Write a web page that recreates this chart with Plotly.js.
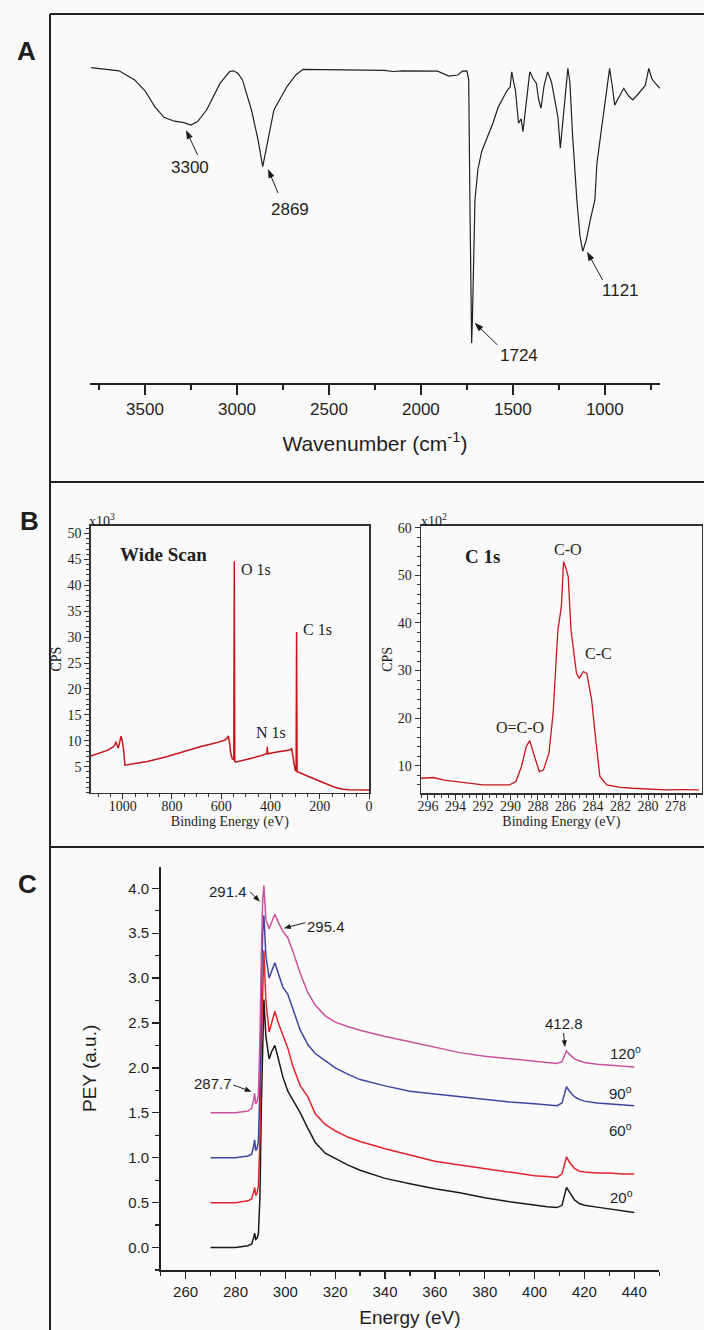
<!DOCTYPE html>
<html><head><meta charset="utf-8">
<script src="https://cdn.plot.ly/plotly-3.0.1.min.js"></script>
<style>html,body{margin:0;padding:0;background:#fafafa;}#chart{width:704px;height:1330px;}</style>
</head><body><div id="chart"></div>
<script>
// ---------- Panel A : FTIR ----------
const irWavenumber = [3793,3700,3641,3556,3500,3446,3397,3340,3288,3251,
  3214,3165,3092,3040,3019,2995,2970,2921,2885,2860,
  2836,2799,2728,2680,2641,2500,2386,2200,2150,2100,
  1909,1848,1799,1774,1750,1740,1733,1727,1724,1720,
  1714,1706,1690,1670,1652,1610,1579,1530,1515,1506,
  1496,1486,1469,1455,1445,1425,1408,1390,1372,1360,
  1347,1330,1311,1290,1267,1255,1242,1220,1201,1190,
  1176,1152,1135,1120,1100,1079,1054,1043,1020,1005,
  990,974,960,946,920,897,870,848,820,799,
  780,761,745,725,701];
const irTransmittance = [90.1,89.6,89.2,86.6,83.5,78.9,75.9,74.8,74.4,73.7,
  74.7,78,85.6,89.0,89.2,88.5,86.6,78,69.4,61.8,
  68.6,78,84.7,88.0,89.6,89.5,89.4,89.3,89.0,89.2,
  89.1,87.7,88,89.1,89.2,86.6,50,17,11.4,18,
  33,52.3,61,66,68.5,74,78.9,83.7,84.5,88.9,
  86,83.7,74.2,75.5,71.8,82,88.9,87,85.6,81,
  78.5,85,88.9,86,78.9,76,67.1,80,89.9,86,
  71.4,52.3,42,37.6,41,46.6,52.3,62.8,72,78,
  85,89.9,85,79.4,82,84.2,82,80.9,82.5,83.7,
  85,89.9,87,85.6,84.2];
const irPeakLabels = ['3300','2869','1724','1121'];

// ---------- Panel B : XPS ----------
const wideEnergy = [1130,1092,1060,1038,1032,1028,1022,1018,1012,1007,
  1002,997,991,980,957,900,822,750,686,620,
  585,576,571,566,561,555,549,547,545,540,
  520,480,440,415,413,411,380,340,321,314,
  307,300,296,294,292,285,280,250,212,180,
  145,120,104,80,50,20,0];
const wideCps = [7.06,7.6,8.2,8.85,9.2,9.8,9.0,8.55,9.8,10.9,
  10.0,8.5,5.3,5.4,5.5,6.0,6.9,7.9,8.85,9.6,
  10.15,10.5,10.97,9.5,7.5,6.5,6.3,44.65,6.0,5.9,
  6.1,6.6,7.1,7.5,8.85,7.5,7.8,8.0,8.2,8.55,
  6.3,4.36,4.2,31.0,4.0,3.9,3.84,3.2,2.43,1.8,
  1.14,0.8,0.64,0.55,0.5,0.5,0.5];
const wideTickVals = [5,10,15,20,25,30,35,40,45,50];
const wideLabels = ['O 1s','C 1s','N 1s'];

const c1sEnergy = [296.5,295.6,294.8,293.9,293.0,292.0,291.0,290.06,289.6,289.2,
  288.85,288.6,288.25,287.9,287.6,287.2,286.9,286.55,286.3,286.14,
  286.0,285.8,285.6,285.2,285.0,284.7,284.45,284.1,283.8,283.5,
  283.0,282.0,281.1,280.0,278.7,277.5,276.3];
const c1sCps = [7.4,7.55,7.0,6.7,6.3,6.0,6.0,6.0,6.7,9.85,
  14.05,15.3,11.95,8.8,9.16,12.66,21.05,38.5,43.4,52.86,
  51.8,49.7,38.5,29.4,28.4,29.8,29.4,23.85,15.45,7.76,
  6.0,5.5,5.3,5.1,4.97,5.0,4.97];
const c1sLabels = ['C-O','C-C','O=C-O'];

// ---------- Panel C : NEXAFS ----------
const energyC = [270,280,285,286.5,287.3,287.7,288.1,288.6,289.2,289.8,
  290.4,290.9,291.4,292.2,293.5,294.5,295.8,297.2,299,301,
  303,306,309,312,316,320,325,330,340,350,
  360,370,380,390,400,405,409,411,412.8,414,
  416,418,420,425,430,435,440];
const pey20 = [0.00,0.00,0.02,0.04,0.11,0.16,0.09,0.10,0.15,0.55,
  1.6,2.4,2.76,2.35,2.1,2.18,2.25,2.1,1.9,1.74,
  1.64,1.5,1.33,1.17,1.05,0.99,0.92,0.86,0.77,0.71,
  0.655,0.61,0.555,0.51,0.47,0.455,0.445,0.47,0.67,0.62,
  0.53,0.49,0.47,0.45,0.43,0.41,0.39];
const pey60 = [0.5,0.5,0.52,0.54,0.62,0.67,0.58,0.6,0.68,1.2,
  2.3,3.0,3.31,2.75,2.4,2.5,2.63,2.5,2.36,2.22,
  2.02,1.8,1.68,1.49,1.37,1.3,1.23,1.18,1.1,1.03,
  0.96,0.92,0.88,0.84,0.8,0.79,0.78,0.82,1.01,0.95,
  0.88,0.85,0.84,0.83,0.83,0.82,0.82];
const pey90 = [1.0,1.0,1.02,1.04,1.13,1.2,1.08,1.1,1.18,1.8,
  2.9,3.5,3.7,3.25,3.0,3.08,3.17,3.05,2.9,2.82,
  2.65,2.42,2.26,2.16,2.08,2.0,1.93,1.87,1.8,1.74,
  1.71,1.68,1.65,1.62,1.6,1.59,1.58,1.61,1.79,1.74,
  1.68,1.65,1.63,1.61,1.6,1.59,1.58];
const pey120 = [1.5,1.5,1.52,1.55,1.65,1.715,1.6,1.62,1.7,2.3,
  3.3,3.85,4.03,3.65,3.55,3.62,3.71,3.62,3.52,3.45,
  3.3,3.05,2.84,2.7,2.58,2.51,2.46,2.42,2.35,2.29,
  2.23,2.17,2.13,2.1,2.07,2.06,2.05,2.07,2.19,2.15,
  2.1,2.08,2.06,2.04,2.03,2.02,2.01];
const angleLabels = ['120<sup>o</sup>','90<sup>o</sup>','60<sup>o</sup>','20<sup>o</sup>'];
const nexafsPeakLabels = ['291.4','295.4','287.7','412.8'];

// ---------- helpers ----------
const W = 704, H = 1330;
const PX = x => x / W, PY = y => 1 - y / H;
const SANS = 'Liberation Sans, Arial, sans-serif';
const SERIF = 'Liberation Serif, Times New Roman, serif';
const INK = '#1e1e1e';

const traces = [
  {x: irWavenumber, y: irTransmittance, xaxis: 'x', yaxis: 'y', type: 'scatter', mode: 'lines',
   line: {color: '#202020', width: 1.2}},
  {x: wideEnergy, y: wideCps, xaxis: 'x2', yaxis: 'y2', type: 'scatter', mode: 'lines',
   line: {color: '#c4161c', width: 1.5}},
  {x: c1sEnergy, y: c1sCps, xaxis: 'x3', yaxis: 'y3', type: 'scatter', mode: 'lines',
   line: {color: '#c4161c', width: 1.3}},
  {x: energyC, y: pey20, xaxis: 'x4', yaxis: 'y4', type: 'scatter', mode: 'lines',
   line: {color: '#1a1a1a', width: 1.5}},
  {x: energyC, y: pey60, xaxis: 'x4', yaxis: 'y4', type: 'scatter', mode: 'lines',
   line: {color: '#e3232b', width: 1.5}},
  {x: energyC, y: pey90, xaxis: 'x4', yaxis: 'y4', type: 'scatter', mode: 'lines',
   line: {color: '#3d45a0', width: 1.5}},
  {x: energyC, y: pey120, xaxis: 'x4', yaxis: 'y4', type: 'scatter', mode: 'lines',
   line: {color: '#c8529e', width: 1.5}}
];

function boxAxis(extra) {
  return Object.assign({
    showline: true, linecolor: '#333', linewidth: 1.5, mirror: true,
    ticks: 'outside', ticklen: 5, tickwidth: 1, tickcolor: '#333',
    showgrid: false, zeroline: false,
    tickfont: {family: SERIF, size: 14, color: INK}
  }, extra);
}

const ann = [];
function label(text, x, y, family, size) {
  ann.push({text: text, x: PX(x), y: PY(y), xref: 'paper', yref: 'paper',
    xanchor: 'center', yanchor: 'middle', showarrow: false,
    font: {family: family, size: size, color: INK}});
}
const shapes = [];
function frameLine(x0, y0, x1, y1) {
  shapes.push({type: 'line', xref: 'paper', yref: 'paper',
    x0: PX(x0), y0: PY(y0), x1: PX(x1), y1: PY(y1), line: {color: '#222', width: 2}});
}
function arrow(tx, ty, hx, hy, len, hw) {
  const dx = hx - tx, dy = hy - ty, L = Math.hypot(dx, dy);
  const ux = dx / L, uy = dy / L;
  const bx = hx - ux * len, by = hy - uy * len;
  shapes.push({type: 'line', xref: 'paper', yref: 'paper',
    x0: PX(tx), y0: PY(ty), x1: PX(bx + ux * 1), y1: PY(by + uy * 1), line: {color: INK, width: 1}});
  const p1x = bx - uy * hw, p1y = by + ux * hw, p2x = bx + uy * hw, p2y = by - ux * hw;
  shapes.push({type: 'path', xref: 'paper', yref: 'paper',
    path: `M ${PX(hx)} ${PY(hy)} L ${PX(p1x)} ${PY(p1y)} L ${PX(p2x)} ${PY(p2y)} Z`,
    fillcolor: INK, line: {width: 0}});
}

// panel letters
[['A', 26, 51], ['B', 30, 521], ['C', 27, 884]].forEach(([t, x, y]) =>
  label('<b>' + t + '</b>', x, y, SANS, 26));

// Panel A labels and arrows
const irLabelPos = [[190, 168], [290, 209], [519, 355], [620, 290]];
const irArrowPos = [[197.6, 155, 186, 130], [278, 193, 268, 169], [497.5, 345, 474.6, 322.7], [602.6, 280, 587, 251.7]];
irPeakLabels.forEach((t, i) => {
  label(t, irLabelPos[i][0], irLabelPos[i][1], SANS, 17);
  const a = irArrowPos[i];
  arrow(a[0], a[1], a[2], a[3], 9, 3.2);
});

// Panel B labels
label('<b>Wide Scan</b>', 163, 554, SERIF, 19);
label('<b>C 1s</b>', 482, 556, SERIF, 19);
const widePos = [[256, 569], [317, 630], [271, 733]];
wideLabels.forEach((t, i) => label(t, widePos[i][0], widePos[i][1], SERIF, 16));
const c1sPos = [[568, 549], [598, 653], [520, 727]];
c1sLabels.forEach((t, i) => label(t, c1sPos[i][0], c1sPos[i][1], SERIF, 16));
label('x10<sup>3</sup>', 102, 520, SERIF, 14);
label('x10<sup>2</sup>', 434, 520, SERIF, 14);

// Panel C labels
const cLabelPos = [[228, 891], [326, 926], [213, 1083], [564, 1023]];
const cArrowPos = [[250, 891.7, 260, 901.7], [305.3, 922.7, 283.8, 928.3], [233.3, 1085, 251.7, 1091.7], [563.5, 1033, 565, 1047.3]];
nexafsPeakLabels.forEach((t, i) => {
  label(t, cLabelPos[i][0], cLabelPos[i][1], SANS, 15);
  const a = cArrowPos[i];
  arrow(a[0], a[1], a[2], a[3], 7, 2.6);
});
const anglePos = [[625, 1052], [620, 1092], [620, 1129], [621, 1196]];
angleLabels.forEach((t, i) => label(t, anglePos[i][0], anglePos[i][1], SANS, 15));

frameLine(50, 14, 704, 14); frameLine(50, 14, 50, 1330);
frameLine(50, 482, 704, 482); frameLine(50, 847, 704, 847);

const layout = {
  width: W, height: H, margin: {l: 0, r: 0, t: 0, b: 0},
  paper_bgcolor: '#fafafa', plot_bgcolor: 'rgba(0,0,0,0)', showlegend: false,
  font: {family: SANS, color: INK},
  xaxis: {domain: [PX(89.8), PX(660)], anchor: 'y', range: [3800, 700],
    tick0: 0, dtick: 500, ticks: 'outside', ticklen: 10, tickwidth: 1.5, tickcolor: '#222',
    showline: true, linewidth: 2, linecolor: '#222', showgrid: false, zeroline: false,
    tickfont: {family: SANS, size: 17, color: INK},
    minor: {tick0: 0, dtick: 250, ticks: 'outside', ticklen: 5, tickwidth: 1.5, tickcolor: '#222'},
    title: {text: 'Wavenumber (cm<sup>-1</sup>)', font: {family: SANS, size: 21, color: INK}, standoff: 18}},
  yaxis: {domain: [PY(383), PY(33)], anchor: 'x', range: [0, 100], visible: false},

  xaxis2: boxAxis({domain: [PX(90.7), PX(369)], anchor: 'y2', range: [1130, 0], tick0: 0, dtick: 200,
    ticklabelstandoff: -5,
    minor: {tick0: 0, dtick: 50, ticks: 'outside', ticklen: 3, tickcolor: '#333'},
    title: {text: 'Binding Energy (eV)', font: {family: SERIF, size: 14, color: INK}, standoff: 0}}),
  yaxis2: boxAxis({domain: [PY(792.6), PY(525.7)], anchor: 'x2', range: [0, 51.5],
    tickmode: 'array', tickvals: wideTickVals,
    minor: {tick0: 0, dtick: 1, ticks: 'outside', ticklen: 3, tickcolor: '#333'},
    title: {text: 'CPS', font: {family: SERIF, size: 14, color: INK}, standoff: 2}}),

  xaxis3: boxAxis({domain: [PX(421), PX(701.7)], anchor: 'y3', range: [296.5, 276.1], tick0: 0, dtick: 2,
    ticklabelstandoff: -5,
    minor: {tick0: 0, dtick: 0.5, ticks: 'outside', ticklen: 3, tickcolor: '#333'},
    title: {text: 'Binding Energy (eV)', font: {family: SERIF, size: 14, color: INK}, standoff: 0}}),
  yaxis3: boxAxis({domain: [PY(793), PY(525.7)], anchor: 'x3', range: [4.3, 60.4], tick0: 0, dtick: 10,
    minor: {tick0: 0, dtick: 2, ticks: 'outside', ticklen: 3, tickcolor: '#333'},
    title: {text: 'CPS', font: {family: SERIF, size: 14, color: INK}, standoff: 2}}),

  xaxis4: {domain: [PX(160.7), PX(659.2)], anchor: 'y4', range: [250, 450], tick0: 0, dtick: 20,
    ticks: 'outside', ticklen: 7, tickwidth: 1.3, tickcolor: '#222',
    showline: true, linewidth: 1.5, linecolor: '#222', showgrid: false, zeroline: false,
    tickfont: {family: SANS, size: 15, color: INK},
    minor: {tick0: 0, dtick: 10, ticks: 'outside', ticklen: 4, tickwidth: 1.3, tickcolor: '#222'},
    title: {text: 'Energy (eV)', font: {family: SANS, size: 19, color: INK}, standoff: 12}},
  yaxis4: {domain: [PY(1270), PY(866.7)], anchor: 'x4', range: [-0.25, 4.24], tick0: 0, dtick: 0.5,
    tickformat: '.1f', ticks: 'outside', ticklen: 7, tickwidth: 1.3, tickcolor: '#222',
    showline: true, linewidth: 1.5, linecolor: '#222', showgrid: false, zeroline: false,
    tickfont: {family: SANS, size: 15, color: INK},
    minor: {tick0: 0, dtick: 0.25, ticks: 'outside', ticklen: 4, tickwidth: 1.3, tickcolor: '#222'},
    title: {text: 'PEY (a.u.)', font: {family: SANS, size: 19, color: INK}, standoff: 26}},

  annotations: ann,
  shapes: shapes
};

Plotly.newPlot('chart', traces, layout, {staticPlot: true, displayModeBar: false});
</script>
</body></html>
